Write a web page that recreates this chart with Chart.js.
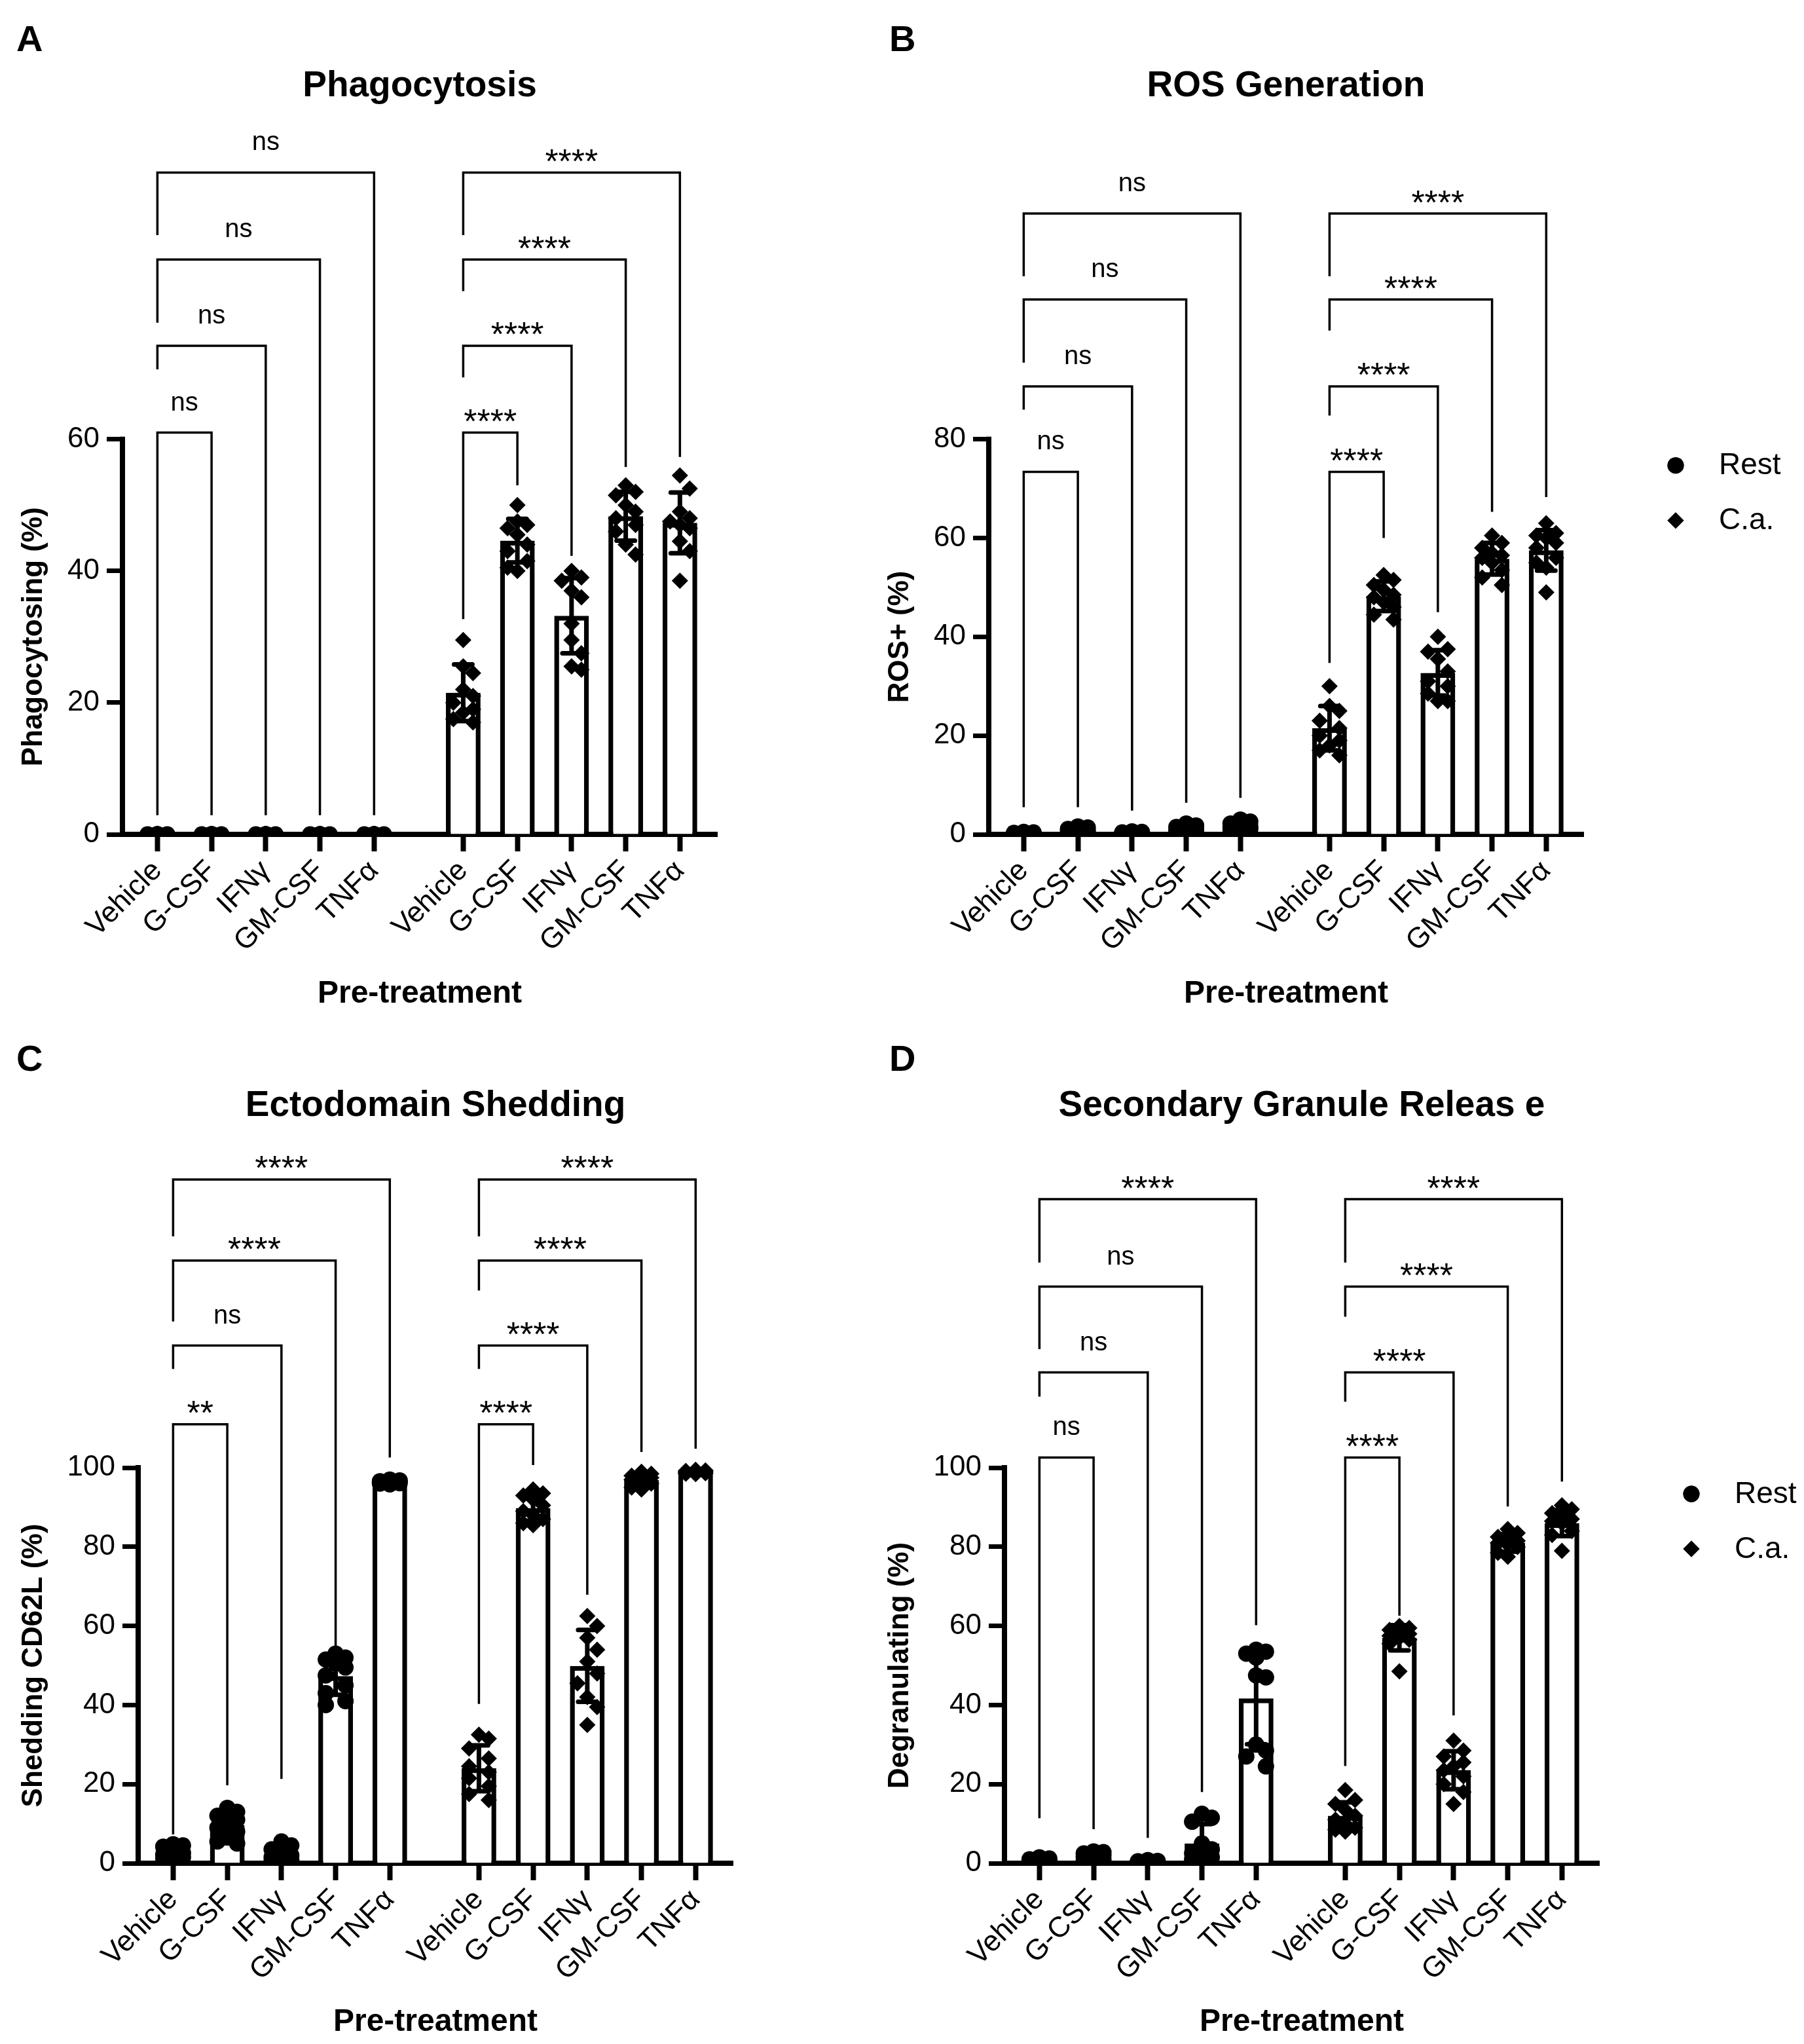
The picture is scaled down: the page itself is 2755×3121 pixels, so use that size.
<!DOCTYPE html>
<html lang="en">
<head>
<meta charset="UTF-8" />
<title>Neutrophil responses to pre-treatment</title>
<style>
  html, body { margin: 0; padding: 0; background: #fff; }
  body { width: 2755px; height: 3121px; position: relative; overflow: hidden; }
  canvas { position: absolute; }
</style>
</head>
<body>
<canvas id="phago" width="1323" height="1560" style="left:0;top:0"></canvas>
<canvas id="ros" width="1432" height="1560" style="left:1323px;top:0"></canvas>
<canvas id="shed" width="1323" height="1561" style="left:0;top:1560px"></canvas>
<canvas id="degran" width="1432" height="1561" style="left:1323px;top:1560px"></canvas>

<script src="https://cdn.jsdelivr.net/npm/chart.js"></script>
<script>
const FONT = "'Liberation Sans', Arial, Helvetica, sans-serif";
Chart.defaults.font.family = FONT;
Chart.defaults.color = '#000';

const treatments = ['Vehicle', 'G-CSF', 'IFNγ', 'GM-CSF', 'TNFα'];
const groups = ['Rest', 'C.a.'];
const comparisons = [1, 2, 3, 4]; // each vs Vehicle

// ---------- A: Phagocytosis ----------
const phagoRestPts = [
  [0, 0, 0, 0, 0, 0, 0, 0, 0, 0],
  [0, 0, 0, 0, 0, 0, 0, 0, 0, 0],
  [0, 0, 0, 0, 0, 0, 0, 0, 0, 0],
  [0, 0, 0, 0, 0, 0, 0, 0, 0, 0],
  [0, 0, 0, 0, 0, 0, 0, 0, 0, 0]
];
const phagoCaPts = [
  [29.5, 25.5, 24.5, 22, 21, 20, 19, 18.5, 17.5, 17],
  [50, 47.5, 47, 46.5, 45.5, 44, 43, 41.5, 40.5, 40],
  [40, 39, 38.5, 37, 36, 32, 29.5, 27.5, 25.5, 25],
  [53, 52, 51.5, 50, 49, 48, 47, 46, 44, 42.5],
  [54.5, 52.5, 49, 48, 47.5, 47, 46.5, 44.5, 43, 38.5]
];
const phagoRestMean = [0, 0, 0, 0, 0];
const phagoRestSd = [0, 0, 0, 0, 0];
const phagoCaMean = [21.5, 44.6, 33.2, 48.3, 47.3];
const phagoCaSd = [4.3, 3.3, 5.7, 3.7, 4.6];
const phagoSig = [['ns', 'ns', 'ns', 'ns'], ['****', '****', '****', '****']];
const phagoBracketTop = [61, 74.2, 87.3, 100.5];
const phagoLegLeft = [[2.9, 70.6, 77.7, 91], [32.7, 69.4, 82.5, 91]];
const phagoLegRight = [[2.9, 2.9, 2.9, 2.9], [53, 42.3, 55.8, 57.3]];

// ---------- B: ROS generation ----------
const rosRestPts = [
  [0.5, 0.4, 0.3, 0.3, 0.2, 0.2, 0.1, 0.1, 0.1, 0],
  [1.6, 1.4, 1.1, 1.0, 0.8, 0.7, 0.5, 0.4, 0.3, 0.2],
  [0.6, 0.5, 0.4, 0.3, 0.3, 0.2, 0.2, 0.1, 0.1, 0.1],
  [2.2, 1.8, 1.5, 1.2, 1.0, 0.8, 0.6, 0.5, 0.3, 0.2],
  [3.0, 2.6, 2.2, 1.9, 1.6, 1.4, 1.2, 1.0, 0.8, 0.6]
];
const rosCaPts = [
  [30, 26, 25, 23, 21.5, 20, 19, 18, 17, 16],
  [52.5, 51.5, 50.5, 49.5, 48.5, 48, 47, 46, 44.5, 43.5],
  [40, 37.5, 37, 35.5, 33, 31, 30, 28.5, 27, 27],
  [60.5, 59, 58, 57, 56.5, 56, 55, 53.5, 52, 50.5],
  [63, 61, 60.5, 60, 59, 58, 56, 55, 54, 49]
];
const rosRestMean = [0.2, 0.8, 0.3, 1.0, 1.6];
const rosRestSd = [0.15, 0.5, 0.2, 0.65, 0.75];
const rosCaMean = [21.5, 48.2, 32.7, 55.8, 57.5];
const rosCaSd = [4.5, 3.0, 4.6, 3.2, 4.1];
const rosSig = [['ns', 'ns', 'ns', 'ns'], ['****', '****', '****', '****']];
const rosBracketTop = [73.4, 90.7, 108.3, 125.7];
const rosLegLeft = [[5.5, 86, 95.5, 113], [34.7, 84.8, 102, 113]];
const rosLegRight = [[5.5, 4.8, 6.4, 7.4], [60, 45, 65.3, 68.3]];

// ---------- C: Ectodomain shedding ----------
const shedRestPts = [
  [4.8, 4.5, 4.2, 3.0, 2.6, 2.2, 1.8, 1.5, 1.2, 0.8],
  [14, 13, 12, 11.5, 11, 9, 8, 6.5, 5.5, 5],
  [5.5, 4.5, 3.5, 2.5, 2, 1.5, 1, 0.8, 0.5, 0.3],
  [53, 52, 51.5, 50.5, 49.5, 47.5, 45, 43, 41, 40],
  [97, 96.8, 96.6, 96.5, 96.4, 96.3, 96.2, 96.1, 96, 95.8]
];
const shedCaPts = [
  [32.5, 31.5, 29, 26.5, 24.5, 23, 21.5, 19.5, 17.5, 16],
  [94.5, 93.5, 93, 92, 90.5, 89, 88, 87, 86, 85.5],
  [62.5, 60, 57, 54, 51, 48, 45.5, 42, 39.5, 35],
  [99, 98.5, 98, 97.5, 97.5, 97, 96.5, 96, 95, 94.5],
  [99.5, 99.3, 99.2, 99, 99, 98.8, 98.7, 98.6, 98.5, 98.4]
];
const shedRestMean = [2.7, 9.6, 2.2, 47.3, 96.4];
const shedRestSd = [1.5, 3.2, 1.7, 4.7, 0.4];
const shedCaMean = [24.0, 89.8, 49.9, 96.9, 98.8];
const shedCaSd = [5.8, 3.2, 9.1, 1.5, 0.4];
const shedSig = [['**', 'ns', '****', '****'], ['****', '****', '****', '****']];
const shedBracketTop = [111, 130.9, 152.4, 172.9];
const shedLegLeft = [[7.3, 125, 137, 158.5], [40.3, 125, 144.8, 158.5]];
const shedLegRight = [[19.7, 21.3, 53.9, 102.6], [100.7, 67.9, 104, 104.8]];

// ---------- D: Secondary granule release ----------
const degRestPts = [
  [1.5, 1.2, 1.0, 0.8, 0.6, 0.5, 0.4, 0.3, 0.2, 0.1],
  [3.0, 2.8, 2.5, 2.2, 2.0, 1.6, 1.2, 1.0, 0.6, 0.4],
  [0.8, 0.6, 0.5, 0.4, 0.3, 0.3, 0.2, 0.2, 0.1, 0.1],
  [12.5, 11.5, 10.5, 5, 3.5, 2.5, 2, 1.5, 1, 0.5],
  [54, 53.5, 53, 52, 47.5, 47, 30, 28.5, 27, 24.5]
];
const degCaPts = [
  [18.5, 16, 15, 13.5, 12, 11, 10, 9, 8.5, 8],
  [60, 59.5, 59, 58.5, 58, 57.5, 57, 56.5, 55.5, 48.5],
  [31, 28.5, 27, 25.5, 24.5, 23.5, 22, 20, 18, 15],
  [84.5, 83.5, 82.5, 82, 81.5, 81, 80.5, 80, 78.5, 77.5],
  [90.5, 89.5, 88.5, 88, 87, 86.5, 86, 84, 83, 79]
];
const degRestMean = [0.65, 1.7, 0.35, 5.0, 41.7];
const degRestSd = [0.4, 0.9, 0.2, 4.9, 11.6];
const degCaMean = [12.0, 57.0, 23.5, 81.0, 86.0];
const degCaSd = [3.4, 3.2, 4.8, 2.2, 3.3];
const degSig = [['ns', 'ns', 'ns', '****'], ['****', '****', '****', '****']];
const degBracketTop = [102.6, 124.1, 145.8, 167.9];
const degLegLeft = [[11.4, 118, 130, 151.9], [24.6, 116.7, 138.2, 151.9]];
const degLegRight = [[8.6, 6.4, 18, 60.2], [62.6, 37.4, 90.2, 96.5]];

// ---------- layout ----------
const GROUP_GAP = 0.645;          // extra room between Rest and C.a. groups
const X_MIN = -0.645, X_MAX = 10.33;
const PLOT_W = 908;
const R = 12.5;                   // marker radius
const slot = (g, i) => i + g * (treatments.length + GROUP_GAP);

// simple beeswarm: points that would overlap get pushed to a side column
function swarm(values, center, pxX, pxY) {
  const step = 15;
  const placed = [];
  const out = new Array(values.length);
  const order = values.map((v, k) => k).sort((a, b) => values[b] - values[a]);
  for (const k of order) {
    const py = values[k] * pxY;
    let best = 0, bestD = -1;
    for (const off of [0, step, -step]) {
      let d = Infinity;
      for (const q of placed) d = Math.min(d, Math.hypot(q[0] - off, q[1] - py));
      if (d >= 1.8 * R) { best = off; break; }
      if (d > bestD) { bestD = d; best = off; }
    }
    placed.push([best, py]);
    out[k] = { x: center + best / pxX, y: values[k] };
  }
  return out;
}

function decor(p) {
  return {
    id: 'decor',
    afterDatasetsDraw(chart) {
      const { ctx, scales: { x, y } } = chart;
      ctx.save();
      ctx.strokeStyle = '#000';
      ctx.lineWidth = 7;
      p.means.forEach((arr, g) => arr.forEach((m, i) => {
        const sd = p.sds[g][i];
        if (!sd) return;
        const px = x.getPixelForValue(slot(g, i));
        const y1 = y.getPixelForValue(m + sd);
        const y2 = y.getPixelForValue(Math.max(m - sd, 0));
        ctx.lineCap = 'butt';
        ctx.beginPath(); ctx.moveTo(px, y1); ctx.lineTo(px, y2); ctx.stroke();
        ctx.lineCap = 'round';
        ctx.beginPath();
        ctx.moveTo(px - 14, y1); ctx.lineTo(px + 14, y1);
        ctx.moveTo(px - 14, y2); ctx.lineTo(px + 14, y2);
        ctx.stroke();
      }));
      ctx.restore();
    },
    afterDraw(chart) {
      const { ctx, chartArea, scales: { x, y } } = chart;
      const y0 = y.getPixelForValue(0), yT = y.getPixelForValue(p.yTop);
      ctx.save();

      // y axis line (stops at the top tick)
      ctx.strokeStyle = '#000';
      ctx.lineWidth = 8;
      ctx.lineCap = 'butt';
      ctx.beginPath();
      ctx.moveTo(chartArea.left, y0 + 4);
      ctx.lineTo(chartArea.left, yT - 4);
      ctx.stroke();

      // significance brackets
      ctx.lineWidth = 3.5;
      ctx.lineJoin = 'miter';
      ctx.fillStyle = '#000';
      ctx.textAlign = 'center';
      ctx.textBaseline = 'alphabetic';
      groups.forEach((_, g) => comparisons.forEach((to, k) => {
        const xl = x.getPixelForValue(slot(g, 0));
        const xr = x.getPixelForValue(slot(g, to));
        const yt = y.getPixelForValue(p.top[k]);
        ctx.beginPath();
        ctx.moveTo(xl, y.getPixelForValue(p.legL[g][k]));
        ctx.lineTo(xl, yt);
        ctx.lineTo(xr, yt);
        ctx.lineTo(xr, y.getPixelForValue(p.legR[g][k]));
        ctx.stroke();
        const lab = p.sig[g][k];
        const stars = lab.indexOf('*') >= 0;
        ctx.font = (stars ? '52px ' : '40px ') + FONT;
        const mt = ctx.measureText(lab);
        const cy = yt - (stars ? 26 : 45);
        ctx.fillText(lab, (xl + xr) / 2, cy + (mt.actualBoundingBoxAscent - mt.actualBoundingBoxDescent) / 2);
      }));

      // y axis title, centred on the drawn axis
      ctx.save();
      ctx.translate(52, (y0 + yT) / 2);
      ctx.rotate(-Math.PI / 2);
      ctx.font = 'bold 44px ' + FONT;
      ctx.textBaseline = 'middle';
      ctx.fillText(p.yTitle, 0, 0);
      ctx.restore();

      // panel letter
      ctx.font = 'bold 56px ' + FONT;
      ctx.textAlign = 'left';
      ctx.fillText(p.letter, p.letterX, p.letterY);

      // legend
      if (p.legend) {
        const lx = chartArea.right + 141;
        const rows = [['circle', yT + 40], ['rectRot', yT + 124]];
        rows.forEach(([style, ly], g) => {
          Chart.helpers.drawPoint(ctx, { pointStyle: style, radius: R, borderWidth: 0, rotation: 0 }, lx, ly);
          ctx.fill();
          ctx.font = '46px ' + FONT;
          ctx.textBaseline = 'middle';
          ctx.fillText(groups[g], lx + 66, ly + 1);
        });
      }
      ctx.restore();
    }
  };
}

function makePanel(id, p) {
  const pxX = PLOT_W / (X_MAX - X_MIN);
  const pxY = p.plotH / p.yMax;
  const tickPos = [];
  const bars = [];
  groups.forEach((_, g) => treatments.forEach((_, i) => {
    tickPos.push(slot(g, i));
    bars.push({ x: slot(g, i), y: p.means[g][i] });
  }));
  const pts = p.points.map((grp, g) => [].concat(...grp.map((v, i) => swarm(v, slot(g, i), pxX, pxY))));

  const pointSet = (label, data, style) => ({
    type: 'scatter', label, data, order: 1,
    pointStyle: style, pointRadius: R, pointHoverRadius: R,
    pointBackgroundColor: '#000', pointBorderColor: '#000', pointBorderWidth: 0
  });

  return new Chart(document.getElementById(id), {
    type: 'bar',
    data: {
      datasets: [
        pointSet(groups[0], pts[0], 'circle'),
        pointSet(groups[1], pts[1], 'rectRot'),
        {
          type: 'bar', label: 'mean', data: bars, order: 2,
          backgroundColor: '#fff', borderColor: '#000', borderWidth: 7.5,
          barPercentage: 0.64, categoryPercentage: 1
        }
      ]
    },
    options: {
      responsive: false,
      animation: false,
      devicePixelRatio: 1,
      events: [],
      layout: { padding: p.padding },
      plugins: {
        legend: { display: false },
        tooltip: { enabled: false },
        title: {
          display: true, text: p.title, fullSize: false, color: '#000',
          font: { size: 55, weight: 'bold' },
          padding: { top: 0, bottom: p.titleGap }
        }
      },
      scales: {
        x: {
          type: 'linear', min: X_MIN, max: X_MAX, offset: false,
          grid: { display: true, offset: false, drawOnChartArea: false, drawTicks: true, tickLength: 26, tickWidth: 8, tickColor: '#000' },
          border: { display: true, width: 8, color: '#000' },
          ticks: {
            autoSkip: false, minRotation: 45, maxRotation: 45, padding: 4,
            font: { size: 44 }, color: '#000',
            callback: (v, i) => treatments[i % treatments.length]
          },
          afterBuildTicks: s => { s.ticks = tickPos.map(v => ({ value: v })); },
          afterFit: s => { s.height = p.xAxisH; },
          title: { display: true, text: 'Pre-treatment', color: '#000', font: { size: 48, weight: 'bold' }, padding: 0 }
        },
        y: {
          type: 'linear', min: 0, max: p.yMax,
          grid: { display: true, drawOnChartArea: false, drawTicks: true, tickLength: 24, tickWidth: 7, tickColor: '#000' },
          border: { display: false },
          ticks: { stepSize: 20, padding: 11, font: { size: 44 }, color: '#000' },
          afterBuildTicks: s => { s.ticks = s.ticks.filter(t => t.value <= p.yTop); },
          afterFit: s => { s.width = p.yAxisW; }
        }
      }
    },
    plugins: [decor(p)]
  });
}

makePanel('phago', {
  letter: 'A', letterX: 25, letterY: 78, title: 'Phagocytosis', yTitle: 'Phagocytosing (%)',
  points: [phagoRestPts, phagoCaPts], means: [phagoRestMean, phagoCaMean], sds: [phagoRestSd, phagoCaSd],
  sig: phagoSig, top: phagoBracketTop, legL: phagoLegLeft, legR: phagoLegRight,
  yMax: 108, yTop: 60, plotH: 1088, yAxisW: 187, xAxisH: 273, titleGap: 23,
  padding: { top: 99, left: 0, right: 228, bottom: 13 }, legend: false
});
makePanel('ros', {
  letter: 'B', letterX: 35, letterY: 78, title: 'ROS Generation', yTitle: 'ROS+ (%)',
  points: [rosRestPts, rosCaPts], means: [rosRestMean, rosCaMean], sds: [rosRestSd, rosCaSd],
  sig: rosSig, top: rosBracketTop, legL: rosLegLeft, legR: rosLegRight,
  yMax: 144, yTop: 80, plotH: 1088, yAxisW: 187, xAxisH: 273, titleGap: 23,
  padding: { top: 99, left: 0, right: 337, bottom: 13 }, legend: true
});
makePanel('shed', {
  letter: 'C', letterX: 25, letterY: 75, title: 'Ectodomain Shedding', yTitle: 'Shedding CD62L (%)',
  points: [shedRestPts, shedCaPts], means: [shedRestMean, shedCaMean], sds: [shedRestSd, shedCaSd],
  sig: shedSig, top: shedBracketTop, legL: shedLegLeft, legR: shedLegRight,
  yMax: 180, yTop: 100, plotH: 1089, yAxisW: 211, xAxisH: 272, titleGap: 36,
  padding: { top: 96, left: 0, right: 204, bottom: 4 }, legend: false
});
makePanel('degran', {
  letter: 'D', letterX: 35, letterY: 75, title: 'Secondary Granule Releas e', yTitle: 'Degranulating (%)',
  points: [degRestPts, degCaPts], means: [degRestMean, degCaMean], sds: [degRestSd, degCaSd],
  sig: degSig, top: degBracketTop, legL: degLegLeft, legR: degLegRight,
  yMax: 180, yTop: 100, plotH: 1089, yAxisW: 211, xAxisH: 272, titleGap: 36,
  padding: { top: 96, left: 0, right: 313, bottom: 4 }, legend: true
});
</script>
</body>
</html>
